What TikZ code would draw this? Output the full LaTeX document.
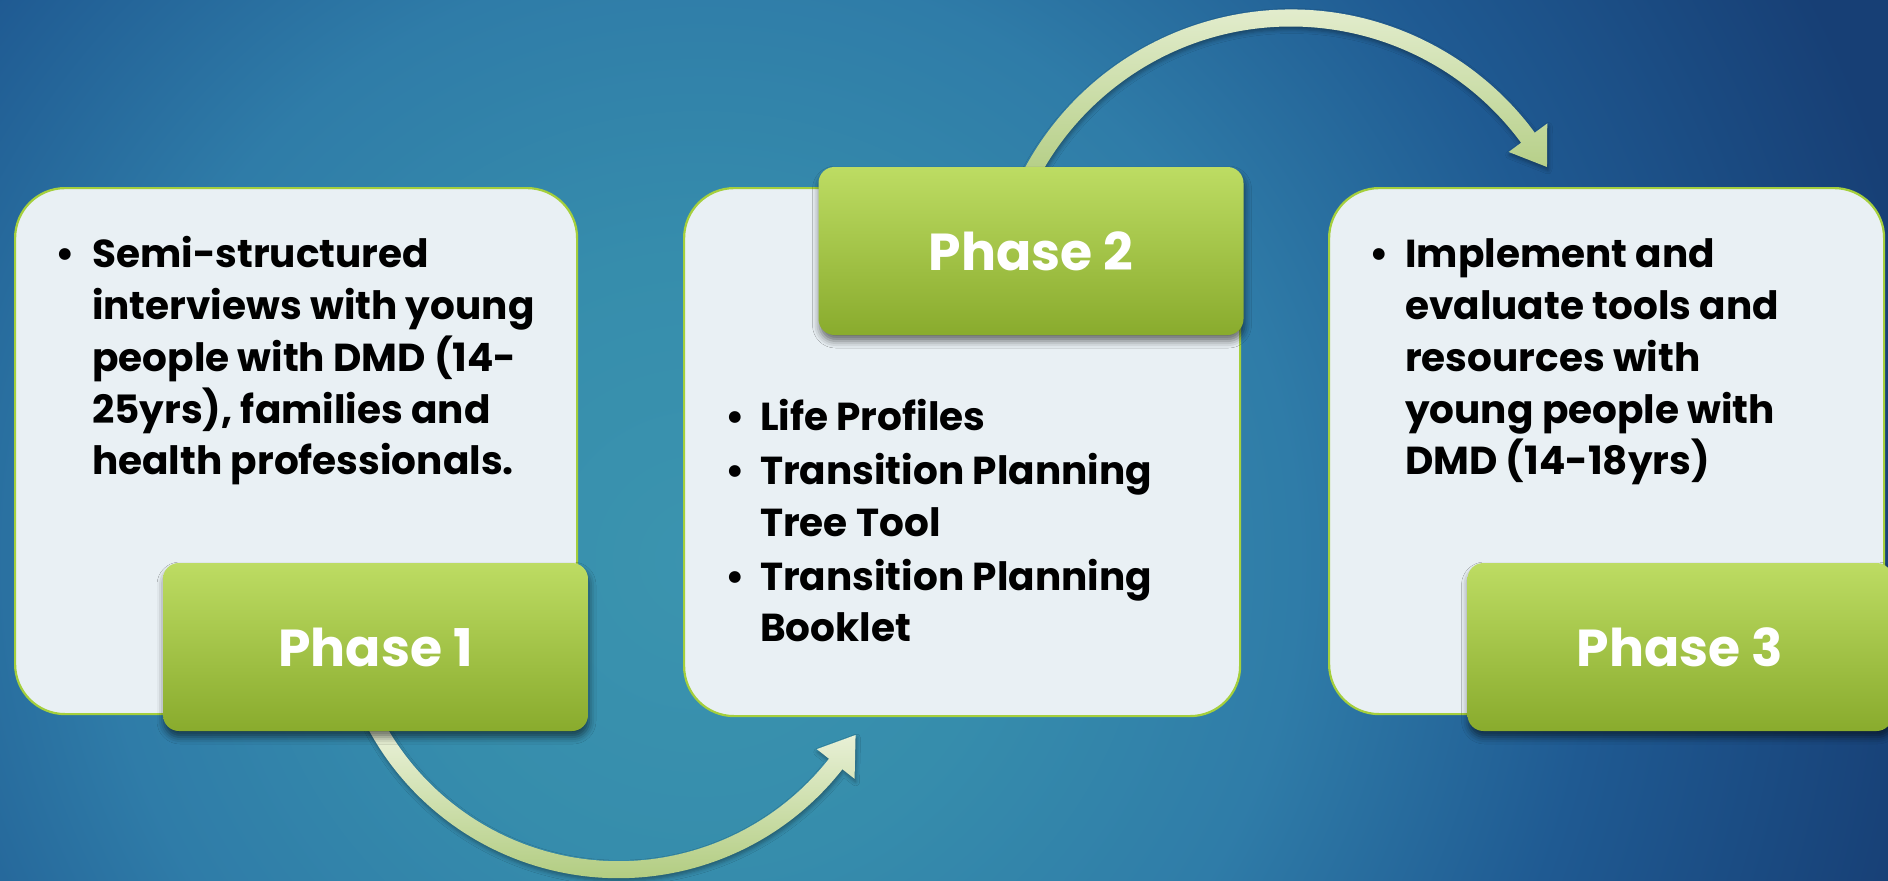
\documentclass[tikz,border=0pt]{standalone}
\usepackage{fontspec}
\setmainfont{Poppins}
\usetikzlibrary{calc,shadows.blur}

\definecolor{boxfill}{HTML}{E9F0F4}
\definecolor{boxline}{HTML}{A5CF3C}
\definecolor{greentop}{HTML}{BDDC63}
\definecolor{greenmid}{HTML}{B2D15A}
\definecolor{greenbot}{HTML}{89AB2D}
\definecolor{arrowlight}{HTML}{EEF4DF}
\definecolor{arrowgreen}{HTML}{B1CC80}

% soft teal glow fading to deep blue towards the edges
% (25bp corresponds to half the side of the shaded square)
\pgfdeclareradialshading{bgglow}{\pgfpoint{0bp}{0bp}}{%
  rgb(0bp)=(0.231,0.580,0.686);
  rgb(5.8bp)=(0.212,0.553,0.675);
  rgb(11.5bp)=(0.184,0.486,0.659);
  rgb(17.3bp)=(0.122,0.353,0.573);
  rgb(24bp)=(0.090,0.247,0.459);
  rgb(50bp)=(0.090,0.247,0.459)}

\tikzset{
  whitebox/.style={draw=boxline, line width=2.2pt, fill=boxfill,
    rounded corners=50pt, inner sep=0pt, anchor=north west},
  phasebox/.style={rounded corners=16pt, inner sep=0pt,
    top color=greentop, middle color=greenmid, bottom color=greenbot,
    minimum width=425pt, minimum height=168pt,
    blur shadow={shadow xshift=1pt, shadow yshift=-6pt,
      shadow blur radius=7pt, shadow opacity=55},
    text=white, font=\bfseries\fontsize{52}{60}\selectfont},
  bodyline/.style={anchor=base west, inner sep=0pt,
    font=\bfseries\fontsize{39}{50}\selectfont},
  bulletmark/.style={anchor=base, inner sep=0pt,
    font=\bfseries\fontsize{39}{50}\selectfont},
  arrowshape/.style={top color=arrowlight, bottom color=arrowgreen,
    blur shadow={shadow xshift=1pt, shadow yshift=-3pt,
      shadow blur radius=4pt, shadow opacity=35}},
}

\begin{document}
\begin{tikzpicture}[x=1pt,y=-1pt]
\useasboundingbox (0,0) rectangle (1888,881);

% background
\begin{scope}
  \clip (0,0) rectangle (1888,881);
  \shade[shading=bgglow] (-600,-740) rectangle (2000,1860);
\end{scope}

% centres of the two curved arrows
\coordinate (lowc) at (618.5,593.7);
\coordinate (highc) at (1291,312.4);

% arrow from phase 1 to phase 2 (under the boxes)
\shade[arrowshape]
  ($(lowc)+(152:284.5)$) arc[start angle=152, end angle=38.1, radius=284.5]
  -- ($(lowc)+(38.1:300)$) -- ($(lowc)+(30.8:276)$) -- ($(lowc)+(38.1:252)$)
  -- ($(lowc)+(38.1:267.5)$) arc[start angle=38.1, end angle=152, radius=267.5]
  -- cycle;

% arrow from phase 2 to phase 3
\shade[arrowshape]
  ($(highc)+(206:302.9)$) arc[start angle=206, end angle=323.6, radius=302.9]
  -- ($(highc)+(323.6:318.4)$) -- ($(highc)+(330.4:294.4)$) -- ($(highc)+(323.6:270.4)$)
  -- ($(highc)+(323.6:285.9)$) arc[start angle=323.6, end angle=206, radius=285.9]
  -- cycle;

% content panels
\node (box1) [whitebox, minimum width=562pt, minimum height=526pt] at (14,187) {};
\node (box2) [whitebox, minimum width=556pt, minimum height=528pt] at (683,187) {};
\node (box3) [whitebox, minimum width=555pt, minimum height=526pt] at (1328,187) {};

% phase labels
\node (ph1) [phasebox] at (375.5,647) {Phase 1};
\node (ph2) [phasebox] at (1031,251) {Phase 2};
\begin{scope}
  \clip (0,0) rectangle (1888,881);
  \node (ph3) [phasebox] at (1680,647) {Phase 3};
\end{scope}

% phase 1 text
\node (b1a) [bulletmark] at (65,267) {•};
\node (t1a) [bodyline] at (92,267) {Semi-structured};
\node (t1b) [bodyline] at (92,319) {interviews with young};
\node (t1c) [bodyline] at (92,371) {people with DMD (14-};
\node (t1d) [bodyline] at (92,423) {25yrs), families and};
\node (t1e) [bodyline] at (92,474) {health professionals.};

% phase 2 text
\node (b2a) [bulletmark] at (735,430) {•};
\node (t2a) [bodyline] at (760,430) {Life Profiles};
\node (b2b) [bulletmark] at (735,484) {•};
\node (t2b) [bodyline] at (760,484) {Transition Planning};
\node (t2c) [bodyline] at (760,536) {Tree Tool};
\node (b2c) [bulletmark] at (735,590) {•};
\node (t2d) [bodyline] at (760,590) {Transition Planning};
\node (t2e) [bodyline] at (760,641) {Booklet};

% phase 3 text
\node (b3a) [bulletmark] at (1379,267) {•};
\node (t3a) [bodyline] at (1405,267) {Implement and};
\node (t3b) [bodyline] at (1405,319) {evaluate tools and};
\node (t3c) [bodyline] at (1405,371) {resources with};
\node (t3d) [bodyline] at (1405,423) {young people with};
\node (t3e) [bodyline] at (1405,474) {DMD (14-18yrs)};
\end{tikzpicture}
\end{document}
